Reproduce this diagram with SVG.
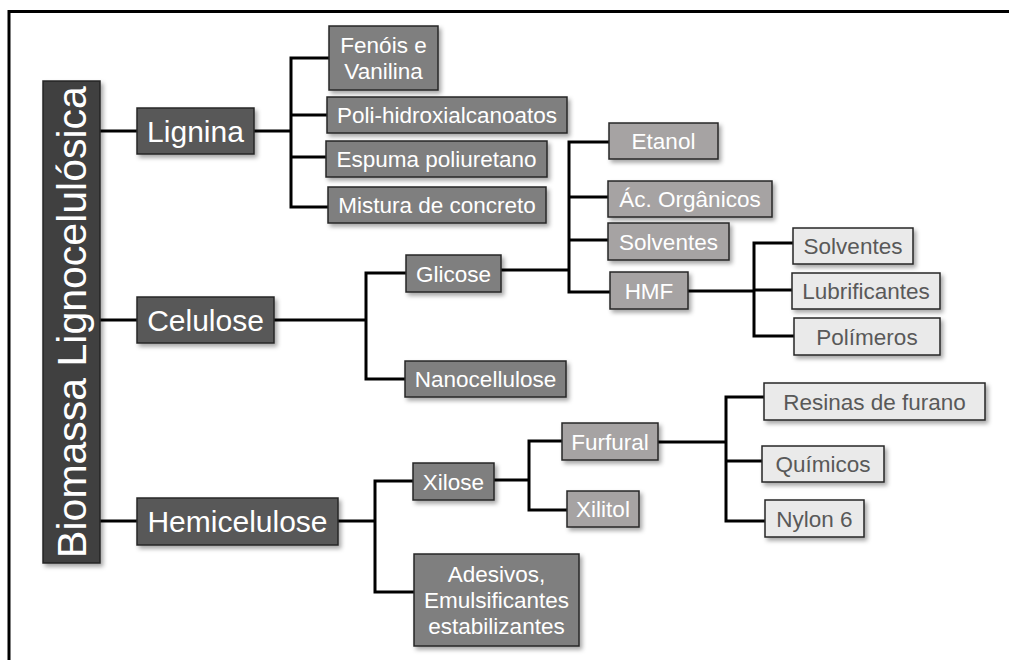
<svg xmlns="http://www.w3.org/2000/svg" width="1009" height="660" viewBox="0 0 1009 660">
<defs>
<filter id="sh" x="-10%" y="-20%" width="130%" height="160%">
<feDropShadow dx="2.5" dy="3" stdDeviation="2" flood-color="#000" flood-opacity="0.35"/>
</filter>
<style>
.frame{fill:none;stroke:#000;stroke-width:3}
.c{fill:none;stroke:#000;stroke-width:3;stroke-linecap:square}
rect{stroke:#262626;stroke-width:1.5;filter:url(#sh)}
.l0{fill:#404040}
.l1{fill:#595959}
.l2{fill:#7f7f7f}
.l3{fill:#a6a3a3}
.l4{fill:#eaeaea}
text{font-family:"Liberation Sans",Arial,sans-serif;text-anchor:middle}
.t0{font-size:41px;fill:#fff}
.t1{font-size:30px;fill:#fff}
.tw{font-size:22.5px;fill:#fff}
.td{font-size:22.5px;fill:#595959}
</style>
</defs>
<rect x="0" y="0" width="1009" height="660" fill="#fff" style="stroke:none;filter:none"/>
<path class="frame" d="M9 660 V11.5 H1009"/>
<g id="connectors">
<path class="c" d="M100 131 H137 M100 320 H137 M100 521 H137"/>
<path class="c" d="M254 131 H291 M291 58 V207 M291 58 H329 M291 115 H327 M291 157 H326 M291 207 H328"/>
<path class="c" d="M274 320 H366 M366 273 V379 M366 273 H406 M366 379 H405"/>
<path class="c" d="M501 270 H569 M569 142 V292 M569 142 H609 M569 197 H608 M569 240 H608 M569 292 H610"/>
<path class="c" d="M688 291 H754 M754 243 V336 M754 243 H793 M754 290 H792 M754 336 H794"/>
<path class="c" d="M338 521 H375 M375 481 V592 M375 481 H413 M375 592 H414"/>
<path class="c" d="M494 480 H529 M529 441 V510 M529 441 H562 M529 510 H567"/>
<path class="c" d="M658 442 H726 M726 397 V521 M726 397 H764 M726 461 H762 M726 521 H765"/>
</g>
<g id="biomassa"><rect class="l0" x="43" y="81" width="57" height="482"/><text class="t0" transform="translate(86,322) rotate(-90)">Biomassa Lignocelulósica</text></g>
<g id="lignina"><rect class="l1" x="137" y="108" width="117" height="46"/><text class="t1" x="195.5" y="142">Lignina</text></g>
<g id="celulose"><rect class="l1" x="137" y="297" width="137" height="46"/><text class="t1" x="205.5" y="331">Celulose</text></g>
<g id="hemicelulose"><rect class="l1" x="137" y="498" width="201" height="47"/><text class="t1" x="237.5" y="532">Hemicelulose</text></g>
<g id="fenois"><rect class="l2" x="329" y="26" width="109" height="64"/><text class="tw" x="383.5" y="53">Fenóis e</text><text class="tw" x="383.5" y="79">Vanilina</text></g>
<g id="poli"><rect class="l2" x="327" y="97" width="240" height="36"/><text class="tw" x="447" y="123">Poli-hidroxialcanoatos</text></g>
<g id="espuma"><rect class="l2" x="326" y="141" width="221" height="36"/><text class="tw" x="436.5" y="167">Espuma poliuretano</text></g>
<g id="mistura"><rect class="l2" x="328" y="187" width="218" height="36"/><text class="tw" x="437" y="213">Mistura de concreto</text></g>
<g id="glicose"><rect class="l2" x="406" y="255" width="95" height="37"/><text class="tw" x="453.5" y="281.5">Glicose</text></g>
<g id="nanocellulose"><rect class="l2" x="405" y="361" width="161" height="36"/><text class="tw" x="485.5" y="387">Nanocellulose</text></g>
<g id="xilose"><rect class="l2" x="413" y="463" width="81" height="37"/><text class="tw" x="453.5" y="489.5">Xilose</text></g>
<g id="adesivos"><rect class="l2" x="414" y="554" width="165" height="92"/><text class="tw" x="496.5" y="582">Adesivos,</text><text class="tw" x="496.5" y="608">Emulsificantes</text><text class="tw" x="496.5" y="634">estabilizantes</text></g>
<g id="etanol"><rect class="l3" x="609" y="123" width="109" height="36"/><text class="tw" x="663.5" y="149">Etanol</text></g>
<g id="acorganicos"><rect class="l3" x="608" y="181" width="164" height="36"/><text class="tw" x="690" y="207">Ác. Orgânicos</text></g>
<g id="solventes1"><rect class="l3" x="608" y="223" width="121" height="37"/><text class="tw" x="668.5" y="249.5">Solventes</text></g>
<g id="hmf"><rect class="l3" x="610" y="272" width="78" height="37"/><text class="tw" x="649" y="298.5">HMF</text></g>
<g id="furfural"><rect class="l3" x="562" y="423" width="96" height="37"/><text class="tw" x="610" y="449.5">Furfural</text></g>
<g id="xilitol"><rect class="l3" x="567" y="491" width="72" height="36"/><text class="tw" x="603" y="517">Xilitol</text></g>
<g id="solventes2"><rect class="l4" x="793" y="228" width="120" height="36"/><text class="td" x="853" y="254">Solventes</text></g>
<g id="lubrificantes"><rect class="l4" x="792" y="273" width="148" height="36"/><text class="td" x="866" y="299">Lubrificantes</text></g>
<g id="polimeros"><rect class="l4" x="794" y="318" width="146" height="37"/><text class="td" x="867" y="344.5">Polímeros</text></g>
<g id="resinas"><rect class="l4" x="764" y="383" width="221" height="37"/><text class="td" x="874.5" y="409.5">Resinas de furano</text></g>
<g id="quimicos"><rect class="l4" x="762" y="446" width="122" height="36"/><text class="td" x="823" y="472">Químicos</text></g>
<g id="nylon"><rect class="l4" x="765" y="500" width="99" height="37"/><text class="td" x="814.5" y="526.5">Nylon 6</text></g>
</svg>
